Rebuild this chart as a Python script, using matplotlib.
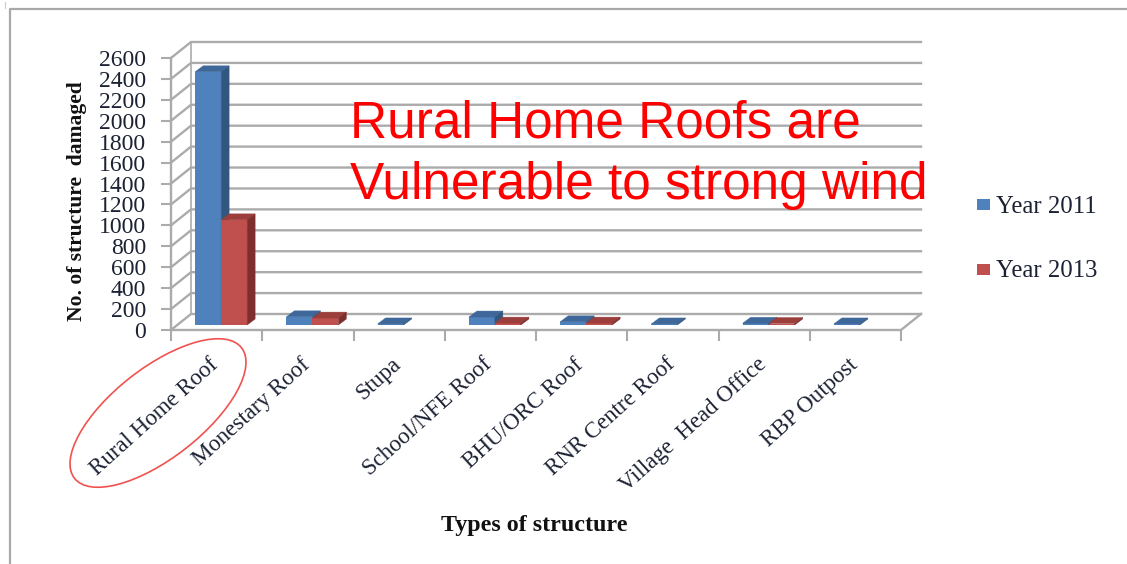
import matplotlib
matplotlib.use('Agg')
import matplotlib.pyplot as plt
from matplotlib.patches import Ellipse, Polygon, Rectangle

categories = ['Rural Home Roof', 'Monestary Roof', 'Stupa', 'School/NFE Roof', 'BHU/ORC Roof',
              'RNR Centre Roof', 'Village  Head Office', 'RBP Outpost']
year_2011 = [2420, 78, 10, 76, 30, 10, 16, 10]
year_2013 = [1005, 66, 0, 18, 18, 0, 14, 0]
y_ticks = list(range(0, 2601, 200))

W, H = 1127, 564
BLUE, BLUE_TOP, BLUE_SIDE = '#4f81bd', '#3d6899', '#33567f'
RED, RED_TOP, RED_SIDE = '#c0504d', '#9c3f3c', '#7e2f2d'
GRID = '#ababab'
TEXT = '#1c2233'
SERIF = 'Liberation Serif'

fig = plt.figure(figsize=(W / 100, H / 100), dpi=100)

# page overlay in pixel coords, for border / annotation
page = fig.add_axes([0, 0, 1, 1])
page.set_xlim(0, W)
page.set_ylim(H, 0)
page.axis('off')
page.plot([10, 10, W], [H, 9, 9], color='#a9a9a9', lw=1.6)
page.plot([5, 5], [2, 8], color='#cccccc', lw=0.8)

# front plane of the 3d chart
ax = fig.add_axes([171 / W, 1 - 330 / H, 730 / W, 272 / H])
ax.set_xlim(0, len(categories))
ax.set_ylim(0, 2600)
ax.patch.set_alpha(0)
for s in ax.spines.values():
    s.set_visible(False)

dx_px = len(categories) / 730
dy_px = 2600 / 272
depth_x, depth_y = 20 * dx_px, 16 * dy_px

# walls
for v in y_ticks:
    ax.plot([0, depth_x, 8 + depth_x], [v, v + depth_y, v + depth_y], color=GRID, lw=1.7,
            clip_on=False, zorder=1, solid_joinstyle='miter')
ax.plot([depth_x, depth_x], [depth_y, 2600 + depth_y], color=GRID, lw=1.2, clip_on=False, zorder=1)
ax.plot([0, 8, 8 + depth_x], [0, 0, depth_y], color=GRID, lw=1.7, clip_on=False, zorder=1)
ax.plot([0, 0], [0, 2600], color=GRID, lw=1.7, clip_on=False, zorder=1)

# bars
bw = 26 * dx_px
off_x, off_y = 4.5 * dx_px, 5 * dy_px
bd_x, bd_y = 8 * dx_px, 6 * dy_px


def bar3d(x0, val, front, top, side, z):
    if val <= 0:
        return
    ax.bar(x0, val, bw, bottom=off_y, align='edge', color=front, lw=0, zorder=z, clip_on=False)
    y1 = off_y + val
    ax.add_patch(Polygon([(x0, y1), (x0 + bd_x, y1 + bd_y), (x0 + bw + bd_x, y1 + bd_y), (x0 + bw, y1)],
                         fc=top, ec=top, lw=0.3, zorder=z, clip_on=False))
    ax.add_patch(Polygon([(x0 + bw, off_y), (x0 + bw + bd_x, off_y + bd_y), (x0 + bw + bd_x, y1 + bd_y), (x0 + bw, y1)],
                         fc=side, ec=side, lw=0.3, zorder=z, clip_on=False))


for i in range(len(categories)):
    left = i + 0.5 - bw + off_x
    bar3d(left, year_2011[i], BLUE, BLUE_TOP, BLUE_SIDE, 3)
    bar3d(left + bw, year_2013[i], RED, RED_TOP, RED_SIDE, 4)

# axes ticks and labels
ax.set_yticks(y_ticks)
ax.set_yticklabels([str(v) for v in y_ticks], family=SERIF, fontsize=17, color=TEXT)
ax.tick_params(axis='y', length=7, width=1.5, color=GRID, pad=11)
ax.set_xticks(range(len(categories) + 1))
ax.set_xticklabels([])
ax.tick_params(axis='x', length=8, width=1.5, color=GRID)

for i, name in enumerate(categories):
    ax.annotate(name, (i + 0.5, 0), xytext=(-8, -24), textcoords='offset pixels',
                rotation=42, ha='right', va='top', rotation_mode='anchor',
                family=SERIF, fontsize=16.5, color=TEXT, annotation_clip=False)

page.text(77, 201, 'No. of structure  damaged', rotation=90, ha='center', va='center',
          family=SERIF, fontsize=15.5, fontweight='bold', color='#111111')
page.text(534, 525, 'Types of structure', ha='center', va='center',
          family=SERIF, fontsize=17.3, fontweight='bold', color='#111111')

# legend
page.add_patch(Rectangle((977, 199), 13, 11, color=BLUE, lw=0))
page.add_patch(Rectangle((977, 264), 13, 11, color=RED, lw=0))
page.text(996, 207, 'Year 2011', va='center', family=SERIF, fontsize=17.8, color=TEXT)
page.text(996, 271, 'Year 2013', va='center', family=SERIF, fontsize=17.8, color=TEXT)

# annotation on top
page2 = fig.add_axes([0, 0, 1, 1])
page2.set_xlim(0, W)
page2.set_ylim(H, 0)
page2.axis('off')
page2.text(350, 124, 'Rural Home Roofs are', va='center', family='Liberation Sans', fontsize=37, color='#ff0000')
page2.text(350, 186, 'Vulnerable to strong wind', va='center', family='Liberation Sans', fontsize=37, color='#ff0000')
page2.add_patch(Ellipse((158, 413), 212, 90, angle=-38, fill=False, ec='#f0524f', lw=1.2))

fig.savefig('out.png', dpi=100)
